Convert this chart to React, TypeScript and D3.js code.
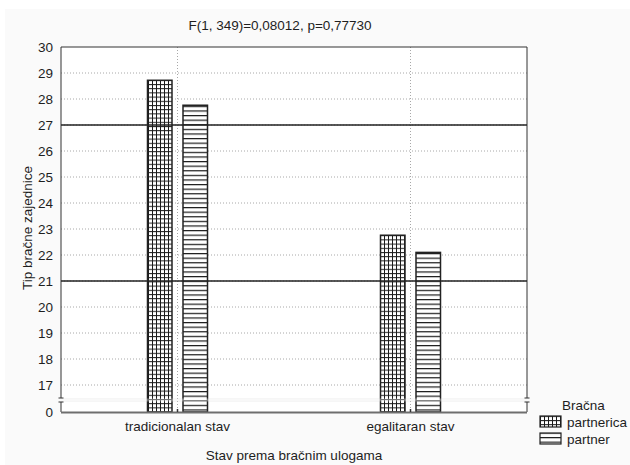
import React, { useEffect, useRef } from 'react';
import * as d3 from 'd3';

const categories = ['tradicionalan stav', 'egalitaran stav'];
const seriesNames = ['partnerica', 'partner'];
const partnericaValues = [28.72, 22.76];
const partnerValues = [27.76, 22.1];
const yTicks = [17, 18, 19, 20, 21, 22, 23, 24, 25, 26, 27, 28, 29, 30];
const referenceLines = [27, 21];
const title = 'F(1, 349)=0,08012, p=0,77730';

const width = 630;
const height = 465;
const FONT = '"Liberation Sans", Arial, sans-serif';
const FS = '13.5px';

const App: React.FC = () => {
  const svgRef = useRef<SVGSVGElement>(null);

  useEffect(() => {
    if (!svgRef.current) return;
    const svg = d3.select(svgRef.current);
    svg.selectAll('*').remove();

    const left = 61;
    const right = 527;
    const top = 47;
    const breakTop = 398;
    const breakBottom = 402;
    const zeroY = 412;

    // patterns
    const defs = svg.append('defs');
    const grid = defs
      .append('pattern')
      .attr('id', 'pat-grid')
      .attr('patternUnits', 'userSpaceOnUse')
      .attr('width', 4)
      .attr('height', 4.2);
    grid.append('rect').attr('width', 4).attr('height', 4.2).attr('fill', '#fff');
    grid.append('line').attr('x1', 0.5).attr('x2', 0.5).attr('y1', 0).attr('y2', 4.2).attr('stroke', '#1a1a1a').attr('stroke-width', 1);
    grid.append('line').attr('x1', 0).attr('x2', 4).attr('y1', 0.5).attr('y2', 0.5).attr('stroke', '#1a1a1a').attr('stroke-width', 1);

    const horiz = defs
      .append('pattern')
      .attr('id', 'pat-horiz')
      .attr('patternUnits', 'userSpaceOnUse')
      .attr('width', 4)
      .attr('height', 4.6);
    horiz.append('rect').attr('width', 4).attr('height', 4.6).attr('fill', '#fff');
    horiz.append('line').attr('x1', 0).attr('x2', 4).attr('y1', 0.6).attr('y2', 0.6).attr('stroke', '#1a1a1a').attr('stroke-width', 1.2);

    const patterns = ['url(#pat-grid)', 'url(#pat-horiz)'];

    // backgrounds
    svg.append('rect').attr('width', width).attr('height', height).attr('fill', '#fff');
    svg.append('rect').attr('x', 5).attr('y', 9).attr('width', width - 5).attr('height', height - 9).attr('fill', '#fafafa');
    svg.append('rect').attr('x', left).attr('y', top).attr('width', right - left).attr('height', zeroY - top).attr('fill', '#fff');
    svg.append('rect').attr('x', left).attr('y', breakTop).attr('width', right - left).attr('height', breakBottom - breakTop).attr('fill', '#f4f4f4');

    const xScale = d3.scaleBand().domain(categories).range([left, right]).padding(0);
    const inner = d3.scaleBand().domain(seriesNames).range([-30, 30]).paddingInner(0.31);
    const yScale = d3.scaleLinear().domain([16.5, 30]).range([breakTop, top]);

    const g = svg.append('g').style('font-family', FONT);

    // horizontal dotted grid
    g.selectAll('.hgrid')
      .data(yTicks.slice(0, -1))
      .enter()
      .append('line')
      .attr('x1', left)
      .attr('x2', right)
      .attr('y1', d => yScale(d))
      .attr('y2', d => yScale(d))
      .attr('stroke', '#a8a8a8')
      .attr('stroke-width', 1)
      .attr('stroke-dasharray', '1,2');

    // vertical dotted grid at category centers
    g.selectAll('.vgrid')
      .data(categories)
      .enter()
      .append('line')
      .attr('x1', d => (xScale(d) || 0) + xScale.bandwidth() / 2)
      .attr('x2', d => (xScale(d) || 0) + xScale.bandwidth() / 2)
      .attr('y1', top)
      .attr('y2', zeroY)
      .attr('stroke', '#a8a8a8')
      .attr('stroke-width', 1)
      .attr('stroke-dasharray', '1,2');

    // bars
    const rows = categories.map((c, i) => ({
      category: c,
      values: [partnericaValues[i], partnerValues[i]],
    }));

    rows.forEach(row => {
      const cx = (xScale(row.category) || 0) + xScale.bandwidth() / 2;
      row.values.forEach((v, j) => {
        const bx = cx + (inner(seriesNames[j]) || 0);
        g.append('rect')
          .attr('x', bx)
          .attr('y', yScale(v))
          .attr('width', inner.bandwidth())
          .attr('height', zeroY - yScale(v))
          .attr('fill', patterns[j])
          .attr('stroke', '#222')
          .attr('stroke-width', 1.5);
      });
    });

    // break strip over bars (lighter overlay)
    g.append('rect')
      .attr('x', left)
      .attr('y', breakTop + 0.5)
      .attr('width', right - left)
      .attr('height', breakBottom - breakTop - 1)
      .attr('fill', '#ffffff')
      .attr('opacity', 0.35);

    // reference lines
    g.selectAll('.ref')
      .data(referenceLines)
      .enter()
      .append('line')
      .attr('x1', left)
      .attr('x2', right)
      .attr('y1', d => yScale(d))
      .attr('y2', d => yScale(d))
      .attr('stroke', '#222')
      .attr('stroke-width', 1.4);

    // frame
    const frame = g.append('g').attr('stroke', '#333').attr('stroke-width', 1).attr('fill', 'none');
    frame.append('line').attr('x1', left).attr('x2', right).attr('y1', top).attr('y2', top);
    [left, right].forEach(x => {
      frame.append('line').attr('x1', x).attr('x2', x).attr('y1', top).attr('y2', breakTop);
      frame.append('line').attr('x1', x - 2.5).attr('x2', x + 2.5).attr('y1', breakTop).attr('y2', breakTop);
      frame.append('line').attr('x1', x - 2.5).attr('x2', x + 2.5).attr('y1', breakBottom).attr('y2', breakBottom);
      frame.append('line').attr('x1', x).attr('x2', x).attr('y1', breakBottom).attr('y2', zeroY);
    });

    // bottom axis
    g.append('line')
      .attr('x1', left)
      .attr('x2', right)
      .attr('y1', zeroY + 0.5)
      .attr('y2', zeroY + 0.5)
      .attr('stroke', '#6e6e6e')
      .attr('stroke-width', 2);

    g.selectAll('.xtick')
      .data(categories)
      .enter()
      .append('line')
      .attr('x1', d => (xScale(d) || 0) + xScale.bandwidth() / 2)
      .attr('x2', d => (xScale(d) || 0) + xScale.bandwidth() / 2)
      .attr('y1', zeroY - 3)
      .attr('y2', zeroY)
      .attr('stroke', '#333')
      .attr('stroke-width', 1.5);

    // y tick labels
    g.selectAll('.ylab')
      .data(yTicks)
      .enter()
      .append('text')
      .attr('x', 53)
      .attr('y', d => yScale(d))
      .attr('dy', '0.36em')
      .attr('text-anchor', 'end')
      .style('font-size', FS)
      .style('fill', '#1e1e1e')
      .text(d => d);

    g.append('text')
      .attr('x', 53)
      .attr('y', zeroY)
      .attr('dy', '0.36em')
      .attr('text-anchor', 'end')
      .style('font-size', FS)
      .style('fill', '#1e1e1e')
      .text('0');

    // x tick labels
    g.selectAll('.xlab')
      .data(categories)
      .enter()
      .append('text')
      .attr('x', d => (xScale(d) || 0) + xScale.bandwidth() / 2)
      .attr('y', 431)
      .attr('text-anchor', 'middle')
      .style('font-size', FS)
      .style('fill', '#1e1e1e')
      .text(d => d);

    // titles
    g.append('text')
      .attr('x', 280)
      .attr('y', 30)
      .attr('text-anchor', 'middle')
      .style('font-size', FS)
      .style('fill', '#1e1e1e')
      .text(title);

    g.append('text')
      .attr('x', (left + right) / 2)
      .attr('y', 460)
      .attr('text-anchor', 'middle')
      .style('font-size', FS)
      .style('fill', '#1e1e1e')
      .text('Stav prema bračnim ulogama');

    g.append('text')
      .attr('transform', `translate(32, 228) rotate(-90)`)
      .attr('text-anchor', 'middle')
      .style('font-size', FS)
      .style('fill', '#1e1e1e')
      .text('Tip bračne zajednice');

    // legend
    const legend = g.append('g');
    legend
      .append('text')
      .attr('x', 562)
      .attr('y', 410)
      .style('font-size', FS)
      .style('fill', '#1e1e1e')
      .text('Bračna');
    seriesNames.forEach((name, i) => {
      const ly = 416 + i * 17;
      legend
        .append('rect')
        .attr('x', 540)
        .attr('y', ly)
        .attr('width', 21)
        .attr('height', 11)
        .attr('fill', patterns[i])
        .attr('stroke', '#222')
        .attr('stroke-width', 1.2);
      legend
        .append('text')
        .attr('x', 567)
        .attr('y', ly + 11)
        .style('font-size', FS)
        .style('fill', '#1e1e1e')
        .text(name);
    });
  }, []);

  return (
    <div style={{ position: 'absolute', left: 0, top: 0 }}>
      <svg ref={svgRef} width={width} height={height} style={{ display: 'block' }} />
    </div>
  );
};

export default App;
